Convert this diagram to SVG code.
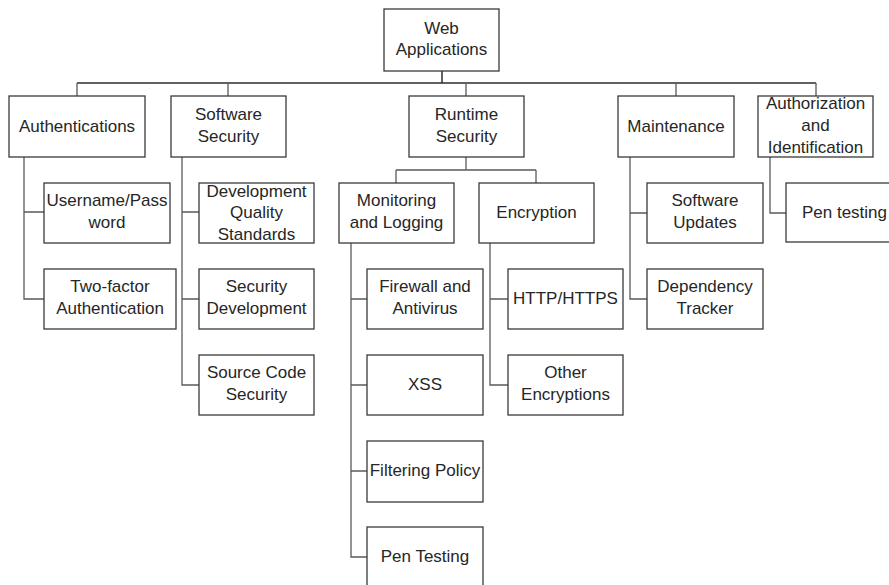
<svg xmlns="http://www.w3.org/2000/svg" width="889" height="585" viewBox="0 0 889 585">
  <style>
    .box { fill: #ffffff; stroke: #3a3a3a; stroke-width: 1.3; }
    .lbl { font-family: "Liberation Sans", Arial, sans-serif; font-size: 17px; fill: #262626; text-anchor: middle; }
    .wire { fill: none; stroke: #5a5a5a; stroke-width: 1.3; }
    .bus { fill: none; stroke: #2e2e2e; stroke-width: 1.5; }
  </style>
  <rect width="889" height="585" fill="#ffffff"/>

  <!-- connectors -->
  <g id="connectors">
    <path class="bus" d="M442,71 V83 M77,83 H816"/>
    <path class="wire" d="M77,83 V96 M228,83 V96 M466,83 V96 M676,83 V96 M816,83 V96"/>
    <!-- Runtime Security split -->
    <path class="wire" d="M466,157 V170 M396,170 H536 M396,170 V183 M536,170 V183"/>
    <!-- Authentications branch -->
    <path class="wire" d="M24,157 V299 H44 M24,212 H44"/>
    <!-- Software Security branch -->
    <path class="wire" d="M182,157 V385 H199 M182,212 H199 M182,299 H199"/>
    <!-- Monitoring and Logging branch -->
    <path class="wire" d="M351,243 V557 H367 M351,299 H367 M351,385 H367 M351,471 H367"/>
    <!-- Encryption branch -->
    <path class="wire" d="M490,243 V385 H508 M490,299 H508"/>
    <!-- Maintenance branch -->
    <path class="wire" d="M630,157 V299 H647 M630,213 H647"/>
    <!-- Authorization branch -->
    <path class="wire" d="M770,157 V213 H786"/>
  </g>

  <!-- top level -->
  <g id="web-applications">
    <rect class="box" x="384" y="9" width="115" height="62"/>
    <text class="lbl" x="441.5" y="34">Web</text>
    <text class="lbl" x="441.5" y="55">Applications</text>
  </g>

  <!-- second level -->
  <g id="authentications">
    <rect class="box" x="9" y="96" width="136" height="61"/>
    <text class="lbl" x="77" y="132">Authentications</text>
  </g>
  <g id="software-security">
    <rect class="box" x="171" y="96" width="115" height="61"/>
    <text class="lbl" x="228.5" y="120">Software</text>
    <text class="lbl" x="228.5" y="142">Security</text>
  </g>
  <g id="runtime-security">
    <rect class="box" x="409" y="96" width="115" height="61"/>
    <text class="lbl" x="466.5" y="120">Runtime</text>
    <text class="lbl" x="466.5" y="142">Security</text>
  </g>
  <g id="maintenance">
    <rect class="box" x="618" y="96" width="116" height="61"/>
    <text class="lbl" x="676" y="132">Maintenance</text>
  </g>
  <g id="authorization">
    <rect class="box" x="758" y="96" width="115" height="61"/>
    <text class="lbl" x="815.5" y="109">Authorization</text>
    <text class="lbl" x="815.5" y="130.5">and</text>
    <text class="lbl" x="815.5" y="152.5">Identification</text>
  </g>

  <!-- Authentications children -->
  <g id="username-password">
    <rect class="box" x="44" y="183" width="126" height="60"/>
    <text class="lbl" x="107" y="206">Username/Pass</text>
    <text class="lbl" x="107" y="228">word</text>
  </g>
  <g id="two-factor">
    <rect class="box" x="44" y="269" width="132" height="60"/>
    <text class="lbl" x="110" y="292">Two-factor</text>
    <text class="lbl" x="110" y="314">Authentication</text>
  </g>

  <!-- Software Security children -->
  <g id="dev-quality">
    <rect class="box" x="199" y="183" width="115" height="60"/>
    <text class="lbl" x="256.5" y="196.5">Development</text>
    <text class="lbl" x="256.5" y="218">Quality</text>
    <text class="lbl" x="256.5" y="239.5">Standards</text>
  </g>
  <g id="security-development">
    <rect class="box" x="199" y="269" width="115" height="60"/>
    <text class="lbl" x="256.5" y="292">Security</text>
    <text class="lbl" x="256.5" y="314">Development</text>
  </g>
  <g id="source-code">
    <rect class="box" x="199" y="355" width="115" height="60"/>
    <text class="lbl" x="256.5" y="378">Source Code</text>
    <text class="lbl" x="256.5" y="400">Security</text>
  </g>

  <!-- Runtime Security children -->
  <g id="monitoring">
    <rect class="box" x="339" y="183" width="115" height="60"/>
    <text class="lbl" x="396.5" y="206">Monitoring</text>
    <text class="lbl" x="396.5" y="228">and Logging</text>
  </g>
  <g id="encryption">
    <rect class="box" x="479" y="183" width="115" height="60"/>
    <text class="lbl" x="536.5" y="218">Encryption</text>
  </g>

  <!-- Monitoring and Logging children -->
  <g id="firewall">
    <rect class="box" x="367" y="269" width="116" height="60"/>
    <text class="lbl" x="425" y="292">Firewall and</text>
    <text class="lbl" x="425" y="314">Antivirus</text>
  </g>
  <g id="xss">
    <rect class="box" x="367" y="355" width="116" height="60"/>
    <text class="lbl" x="425" y="390">XSS</text>
  </g>
  <g id="filtering-policy">
    <rect class="box" x="367" y="441" width="116" height="61"/>
    <text class="lbl" x="425" y="476">Filtering Policy</text>
  </g>
  <g id="pen-testing-runtime">
    <rect class="box" x="367" y="527" width="116" height="70"/>
    <text class="lbl" x="425" y="562">Pen Testing</text>
  </g>

  <!-- Encryption children -->
  <g id="http-https">
    <rect class="box" x="508" y="269" width="115" height="60"/>
    <text class="lbl" x="565.5" y="304">HTTP/HTTPS</text>
  </g>
  <g id="other-encryptions">
    <rect class="box" x="508" y="355" width="115" height="60"/>
    <text class="lbl" x="565.5" y="378">Other</text>
    <text class="lbl" x="565.5" y="400">Encryptions</text>
  </g>

  <!-- Maintenance children -->
  <g id="software-updates">
    <rect class="box" x="647" y="183" width="116" height="60"/>
    <text class="lbl" x="705" y="206">Software</text>
    <text class="lbl" x="705" y="228">Updates</text>
  </g>
  <g id="dependency-tracker">
    <rect class="box" x="647" y="269" width="116" height="60"/>
    <text class="lbl" x="705" y="292">Dependency</text>
    <text class="lbl" x="705" y="314">Tracker</text>
  </g>

  <!-- Authorization child -->
  <g id="pen-testing-authz">
    <rect class="box" x="786" y="183" width="117" height="59"/>
    <text class="lbl" x="844.5" y="218">Pen testing</text>
  </g>
</svg>
